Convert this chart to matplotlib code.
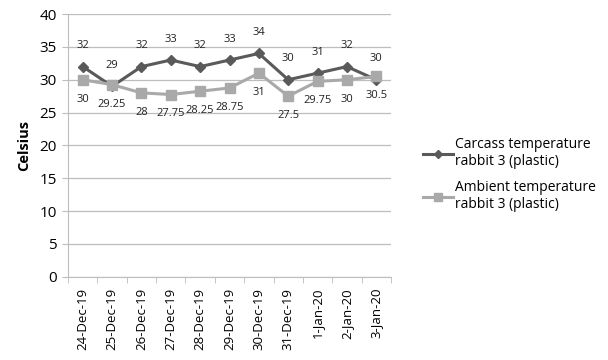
import matplotlib.pyplot as plt
import numpy as np

plt.rcParams['font.family'] = ['Open Sans', 'DejaVu Sans']

dates = ['24-Dec-19', '25-Dec-19', '26-Dec-19', '27-Dec-19', '28-Dec-19', '29-Dec-19',
         '30-Dec-19', '31-Dec-19', '1-Jan-20', '2-Jan-20', '3-Jan-20']
carcass = [32, 29, 32, 33, 32, 33, 34, 30, 31, 32, 30]
ambient = [30, 29.25, 28, 27.75, 28.25, 28.75, 31, 27.5, 29.75, 30, 30.5]

dark = '#5a5a5a'
light = '#a9a9a9'
grid_col = '#bdbdbd'

fig = plt.figure(figsize=(6.08, 3.6), dpi=100)
ax = fig.add_axes([0.112, 0.231, 0.531, 0.730])

x = np.arange(len(dates))
l1, = ax.plot(x, carcass, color=dark, lw=2.2, marker='D', ms=5, label='Carcass temperature\nrabbit 3 (plastic)')
l2, = ax.plot(x, ambient, color=light, lw=2.2, marker='s', ms=7, label='Ambient temperature\nrabbit 3 (plastic)')

# data labels: carcass above, ambient below
for xi, v in zip(x, carcass):
    ax.annotate(f'{v:g}', (xi, v), xytext=(0, 11), textcoords='offset points',
                ha='center', va='bottom', fontsize=8, color='#222222')
for xi, v in zip(x, ambient):
    ax.annotate(f'{v:g}', (xi, v), xytext=(0, -10), textcoords='offset points',
                ha='center', va='top', fontsize=8, color='#222222')

ax.set_xlim(-0.5, len(dates) - 0.5)
ax.set_ylim(0, 40)
ax.set_yticks(range(0, 41, 5))
ax.set_xticks(x)
ax.set_xticklabels(dates, rotation=90, fontsize=9.5)
ax.set_xticks(np.arange(-0.5, len(dates)), minor=True)
ax.tick_params(axis='x', which='major', length=0, pad=8)
ax.tick_params(axis='x', which='minor', length=4, color=grid_col)
ax.tick_params(axis='y', labelsize=11, length=4, color=grid_col, pad=4)

ax.grid(axis='y', color=grid_col, lw=0.9)
ax.set_axisbelow(True)
for s in ['top', 'right']:
    ax.spines[s].set_visible(False)
for s in ['left', 'bottom']:
    ax.spines[s].set_color(grid_col)

ax.set_ylabel('Celsius', fontsize=10.5, fontweight='bold', labelpad=6)

fig.legend(handles=[l1, l2], loc='center left', bbox_to_anchor=(0.675, 0.515),
           frameon=False, fontsize=10, handlelength=2.2, labelspacing=0.8,
           handletextpad=0.1, markerscale=0.8)

fig.savefig('out.png', dpi=100)
